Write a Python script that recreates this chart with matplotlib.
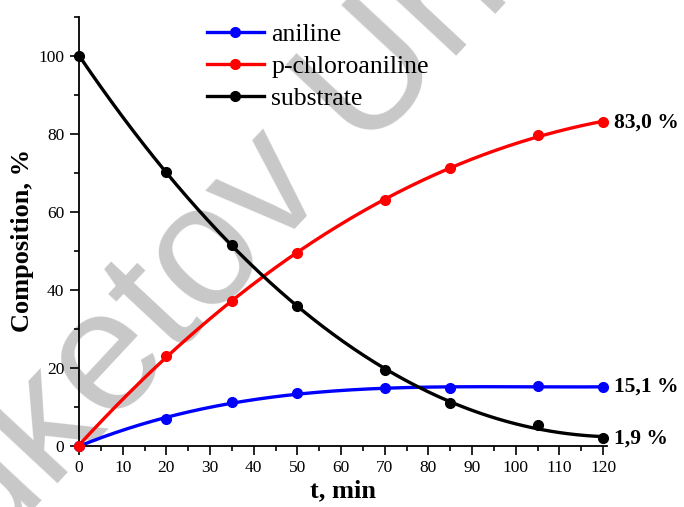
import matplotlib
matplotlib.use("Agg")
import matplotlib.pyplot as plt
import numpy as np

plt.rcParams['font.family'] = ['Liberation Serif', 'DejaVu Serif']

# Data
t_min = [0, 20, 35, 50, 70, 85, 105, 120]
aniline = [0, 6.8, 11.2, 13.4, 14.7, 14.9, 15.2, 15.1]
chloroaniline = [0, 23.0, 37.2, 49.5, 63.0, 71.2, 79.7, 83.0]
substrate = [100, 70.2, 51.5, 35.9, 19.4, 10.9, 5.3, 1.9]

series = [
    ("aniline", aniline, "#0000ff", "15,1 %"),
    ("p-chloroaniline", chloroaniline, "#ff0000", "83,0 %"),
    ("substrate", substrate, "#000000", "1,9 %"),
]
x_ticks = np.arange(0, 121, 10)
y_ticks = np.arange(0, 101, 20)

fig = plt.figure(figsize=(6.84, 5.07), dpi=100)
ax = fig.add_axes([0.1155, 0.1209, 0.7725, 0.8456])

# watermark behind everything
fig.text(-0.136, -0.273, "Buketov University", fontsize=124, color="#c8c8c8",
         family=["Liberation Sans", "DejaVu Sans"], rotation=47,
         rotation_mode="anchor", ha="left", va="baseline", zorder=0)
ax.set_zorder(1)
ax.patch.set_alpha(0)

xs = np.linspace(0, 120, 300)
handles = []
for name, vals, col, lab in series:
    coef = np.polyfit(t_min, vals, 3)
    ax.plot(xs, np.polyval(coef, xs), color=col, lw=2.4, zorder=3)
    ax.plot(t_min, vals, "o", color=col, ms=7, zorder=4, clip_on=False)
    h, = ax.plot([], [], "-o", color=col, lw=2.4, ms=7, label=name)
    handles.append(h)
    ax.text(122.5, vals[-1], lab, fontsize=15.5, fontweight="bold",
            va="center", ha="left", clip_on=False)

ax.set_xlim(0, 121)
ax.set_ylim(0, 110)
ax.set_xticks(x_ticks)
ax.set_yticks(y_ticks)
ax.set_xticks(np.arange(5, 121, 10), minor=True)
ax.set_yticks(np.arange(10, 111, 20), minor=True)
ax.spines["top"].set_visible(False)
ax.spines["right"].set_visible(False)
for s in ("left", "bottom"):
    ax.spines[s].set_linewidth(1.3)
ax.tick_params(which="major", length=6.5, width=1.2, labelsize=12.5, pad=4, direction="out")
ax.tick_params(which="minor", length=3.5, width=1.2, direction="out")

ax.set_xlabel("t, min", fontsize=19, fontweight="bold", labelpad=2)
ax.set_ylabel("Composition, %", fontsize=19, fontweight="bold")
ax.yaxis.set_label_coords(-0.085, 0.478)

fig.legend(handles=handles, loc="upper left", bbox_to_anchor=(207 / 684, 1 - 23 / 507),
           frameon=False, prop={"family": "Liberation Serif", "size": 18.5},
           handlelength=2.2, handletextpad=0.3,
           labelspacing=0.36, borderpad=0, borderaxespad=0)

fig.savefig("out.png", dpi=100)
